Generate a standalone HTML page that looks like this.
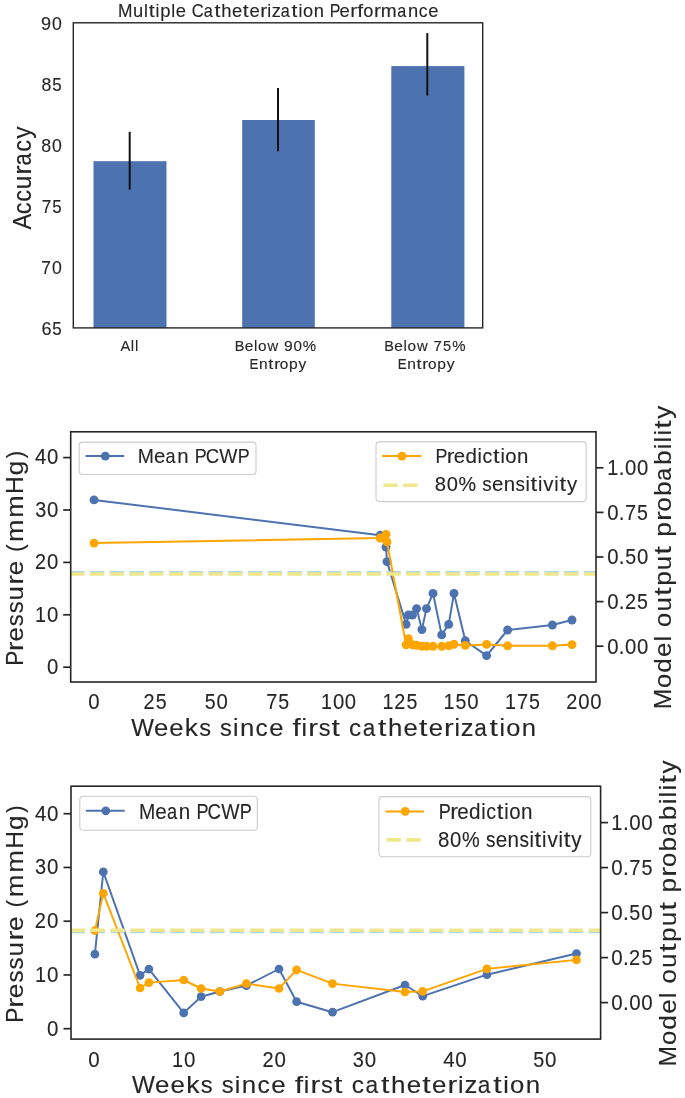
<!DOCTYPE html>
<html><head><meta charset="utf-8"><title>Multiple Catheterization Performance</title>
<style>
html,body{margin:0;padding:0;background:#fff;overflow:hidden;}
svg{display:block;}
text{font-family:"Liberation Sans",sans-serif;fill:#262626;stroke:#262626;stroke-width:0.12px;}
svg{will-change:transform;}
</style></head><body>
<svg width="685" height="1098" viewBox="0 0 685 1098">
<rect width="685" height="1098" fill="#fff"/>
<rect x="93.50" y="161.20" width="73.00" height="166.70" fill="#4c72b0"/>
<rect x="242.20" y="120.00" width="72.60" height="207.90" fill="#4c72b0"/>
<rect x="391.30" y="66.10" width="73.10" height="261.80" fill="#4c72b0"/>
<line x1="129.70" y1="131.80" x2="129.70" y2="189.60" stroke="#111" stroke-width="2"/>
<line x1="278.00" y1="88.10" x2="278.00" y2="151.20" stroke="#111" stroke-width="2"/>
<line x1="427.30" y1="33.10" x2="427.30" y2="95.60" stroke="#111" stroke-width="2"/>
<rect x="73.30" y="22.80" width="409.40" height="305.10" fill="none" stroke="#262626" stroke-width="1.4"/>
<text y="0" font-size="17.8" transform="translate(61,334.8)"><tspan x="-19.51" textLength="10.06" lengthAdjust="spacingAndGlyphs">6</tspan><tspan x="-8.64" textLength="9.44" lengthAdjust="spacingAndGlyphs">5</tspan></text>
<text y="0" font-size="17.8" transform="translate(61,273.78)"><tspan x="-19.7" textLength="9.67" lengthAdjust="spacingAndGlyphs">7</tspan><tspan x="-9.12" textLength="9.82" lengthAdjust="spacingAndGlyphs">0</tspan></text>
<text y="0" font-size="17.8" transform="translate(61,212.76)"><tspan x="-19.35" textLength="9.67" lengthAdjust="spacingAndGlyphs">7</tspan><tspan x="-8.64" textLength="9.44" lengthAdjust="spacingAndGlyphs">5</tspan></text>
<text y="0" font-size="17.8" transform="translate(61,151.74)"><tspan x="-19.78" textLength="9.9" lengthAdjust="spacingAndGlyphs">8</tspan><tspan x="-9.12" textLength="9.82" lengthAdjust="spacingAndGlyphs">0</tspan></text>
<text y="0" font-size="17.8" transform="translate(61,90.72)"><tspan x="-19.43" textLength="9.9" lengthAdjust="spacingAndGlyphs">8</tspan><tspan x="-8.64" textLength="9.44" lengthAdjust="spacingAndGlyphs">5</tspan></text>
<text y="0" font-size="17.8" transform="translate(61,29.7)"><tspan x="-19.91" textLength="10.05" lengthAdjust="spacingAndGlyphs">9</tspan><tspan x="-9.12" textLength="9.82" lengthAdjust="spacingAndGlyphs">0</tspan></text>
<text y="0" font-size="17.9" transform="translate(119.6,17.2)"><tspan x="-1.5" textLength="14.47" lengthAdjust="spacingAndGlyphs">M</tspan><tspan x="13.46" textLength="10.21" lengthAdjust="spacingAndGlyphs">u</tspan><tspan x="24.48" textLength="3.93" lengthAdjust="spacingAndGlyphs">l</tspan><tspan x="29.16" textLength="5.96" lengthAdjust="spacingAndGlyphs">t</tspan><tspan x="36.01" textLength="3.93" lengthAdjust="spacingAndGlyphs">i</tspan><tspan x="40.78" textLength="10.27" lengthAdjust="spacingAndGlyphs">p</tspan><tspan x="51.7" textLength="3.93" lengthAdjust="spacingAndGlyphs">l</tspan><tspan x="56.27" textLength="10.22" lengthAdjust="spacingAndGlyphs">e</tspan> <tspan x="72.04" textLength="11.95" lengthAdjust="spacingAndGlyphs">C</tspan><tspan x="84.27" textLength="9.01" lengthAdjust="spacingAndGlyphs">a</tspan><tspan x="94.98" textLength="5.96" lengthAdjust="spacingAndGlyphs">t</tspan><tspan x="101.73" textLength="10.26" lengthAdjust="spacingAndGlyphs">h</tspan><tspan x="112.51" textLength="10.22" lengthAdjust="spacingAndGlyphs">e</tspan><tspan x="123.21" textLength="5.96" lengthAdjust="spacingAndGlyphs">t</tspan><tspan x="129.84" textLength="10.22" lengthAdjust="spacingAndGlyphs">e</tspan><tspan x="140.54" textLength="6.93" lengthAdjust="spacingAndGlyphs">r</tspan><tspan x="147.71" textLength="3.93" lengthAdjust="spacingAndGlyphs">i</tspan><tspan x="152.08" textLength="9.14" lengthAdjust="spacingAndGlyphs">z</tspan><tspan x="161.24" textLength="9.01" lengthAdjust="spacingAndGlyphs">a</tspan><tspan x="171.95" textLength="5.96" lengthAdjust="spacingAndGlyphs">t</tspan><tspan x="178.8" textLength="3.93" lengthAdjust="spacingAndGlyphs">i</tspan><tspan x="183.36" textLength="10.11" lengthAdjust="spacingAndGlyphs">o</tspan><tspan x="194.05" textLength="10.21" lengthAdjust="spacingAndGlyphs">n</tspan> <tspan x="210.2" textLength="10.68" lengthAdjust="spacingAndGlyphs">P</tspan><tspan x="220.01" textLength="10.22" lengthAdjust="spacingAndGlyphs">e</tspan><tspan x="230.71" textLength="6.93" lengthAdjust="spacingAndGlyphs">r</tspan><tspan x="237.73" textLength="5.88" lengthAdjust="spacingAndGlyphs">f</tspan><tspan x="243.72" textLength="10.11" lengthAdjust="spacingAndGlyphs">o</tspan><tspan x="254.36" textLength="6.93" lengthAdjust="spacingAndGlyphs">r</tspan><tspan x="261.27" textLength="15.9" lengthAdjust="spacingAndGlyphs">m</tspan><tspan x="277.71" textLength="9.01" lengthAdjust="spacingAndGlyphs">a</tspan><tspan x="288.48" textLength="10.21" lengthAdjust="spacingAndGlyphs">n</tspan><tspan x="299.16" textLength="8.73" lengthAdjust="spacingAndGlyphs">c</tspan><tspan x="308.67" textLength="10.22" lengthAdjust="spacingAndGlyphs">e</tspan></text>
<text y="0" font-size="25.3" transform="matrix(0,-1,1,0,31.2,229.3)"><tspan x="-0.29" textLength="15.74" lengthAdjust="spacingAndGlyphs">A</tspan><tspan x="15.04" textLength="11.77" lengthAdjust="spacingAndGlyphs">c</tspan><tspan x="27.52" textLength="11.77" lengthAdjust="spacingAndGlyphs">c</tspan><tspan x="40.18" textLength="13.75" lengthAdjust="spacingAndGlyphs">u</tspan><tspan x="54.65" textLength="9.31" lengthAdjust="spacingAndGlyphs">r</tspan><tspan x="63.69" textLength="12.17" lengthAdjust="spacingAndGlyphs">a</tspan><tspan x="77.63" textLength="11.77" lengthAdjust="spacingAndGlyphs">c</tspan><tspan x="90.57" textLength="12.33" lengthAdjust="spacingAndGlyphs">y</tspan></text>
<text y="0" font-size="14.5" transform="translate(128.9,350.8)"><tspan x="-8.41" textLength="9.86" lengthAdjust="spacingAndGlyphs">A</tspan><tspan x="1.98" textLength="3.32" lengthAdjust="spacingAndGlyphs">l</tspan><tspan x="6.09" textLength="3.32" lengthAdjust="spacingAndGlyphs">l</tspan></text>
<text y="0" font-size="14.5" transform="translate(275.75,350.6)"><tspan x="-41.12" textLength="9.61" lengthAdjust="spacingAndGlyphs">B</tspan><tspan x="-30.97" textLength="8.64" lengthAdjust="spacingAndGlyphs">e</tspan><tspan x="-21.73" textLength="3.32" lengthAdjust="spacingAndGlyphs">l</tspan><tspan x="-17.75" textLength="8.54" lengthAdjust="spacingAndGlyphs">o</tspan><tspan x="-8.26" textLength="10.7" lengthAdjust="spacingAndGlyphs">w</tspan> <tspan x="8.16" textLength="8.69" lengthAdjust="spacingAndGlyphs">9</tspan><tspan x="17.73" textLength="8.49" lengthAdjust="spacingAndGlyphs">0</tspan><tspan x="27.05" textLength="13.33" lengthAdjust="spacingAndGlyphs">%</tspan></text>
<text y="0" font-size="14.5" transform="translate(278.55,368.5)"><tspan x="-29.03" textLength="8.89" lengthAdjust="spacingAndGlyphs">E</tspan><tspan x="-19.5" textLength="8.63" lengthAdjust="spacingAndGlyphs">n</tspan><tspan x="-10.2" textLength="5.06" lengthAdjust="spacingAndGlyphs">t</tspan><tspan x="-4.38" textLength="5.87" lengthAdjust="spacingAndGlyphs">r</tspan><tspan x="1.3" textLength="8.54" lengthAdjust="spacingAndGlyphs">o</tspan><tspan x="10.54" textLength="8.69" lengthAdjust="spacingAndGlyphs">p</tspan><tspan x="19.99" textLength="7.74" lengthAdjust="spacingAndGlyphs">y</tspan></text>
<text y="0" font-size="14.5" transform="translate(425.25,350.6)"><tspan x="-41.12" textLength="9.61" lengthAdjust="spacingAndGlyphs">B</tspan><tspan x="-30.97" textLength="8.64" lengthAdjust="spacingAndGlyphs">e</tspan><tspan x="-21.73" textLength="3.32" lengthAdjust="spacingAndGlyphs">l</tspan><tspan x="-17.75" textLength="8.54" lengthAdjust="spacingAndGlyphs">o</tspan><tspan x="-8.26" textLength="10.7" lengthAdjust="spacingAndGlyphs">w</tspan> <tspan x="8.35" textLength="8.36" lengthAdjust="spacingAndGlyphs">7</tspan><tspan x="17.84" textLength="8.15" lengthAdjust="spacingAndGlyphs">5</tspan><tspan x="27.05" textLength="13.33" lengthAdjust="spacingAndGlyphs">%</tspan></text>
<text y="0" font-size="14.5" transform="translate(426.65,368.5)"><tspan x="-29.03" textLength="8.89" lengthAdjust="spacingAndGlyphs">E</tspan><tspan x="-19.5" textLength="8.63" lengthAdjust="spacingAndGlyphs">n</tspan><tspan x="-10.2" textLength="5.06" lengthAdjust="spacingAndGlyphs">t</tspan><tspan x="-4.38" textLength="5.87" lengthAdjust="spacingAndGlyphs">r</tspan><tspan x="1.3" textLength="8.54" lengthAdjust="spacingAndGlyphs">o</tspan><tspan x="10.54" textLength="8.69" lengthAdjust="spacingAndGlyphs">p</tspan><tspan x="19.99" textLength="7.74" lengthAdjust="spacingAndGlyphs">y</tspan></text>
<clipPath id="c431"><rect x="70.70" y="431.80" width="525.30" height="250.20"/></clipPath>
<g clip-path="url(#c431)">
<polyline points="94.00,499.90 380.20,535.30 386.00,547.10 387.00,561.60 406.10,624.40 408.40,615.00 412.50,615.00 416.60,608.60 421.90,629.60 426.50,608.60 433.00,593.40 441.70,634.90 448.70,624.40 454.00,593.40 465.30,640.80 486.60,655.60 507.60,630.00 552.40,625.00 572.00,620.00" fill="none" stroke="#4c72b0" stroke-width="2.0" stroke-linejoin="round"/>
<circle cx="94.00" cy="499.90" r="4.45" fill="#4c72b0"/>
<circle cx="380.20" cy="535.30" r="4.45" fill="#4c72b0"/>
<circle cx="386.00" cy="547.10" r="4.45" fill="#4c72b0"/>
<circle cx="387.00" cy="561.60" r="4.45" fill="#4c72b0"/>
<circle cx="406.10" cy="624.40" r="4.45" fill="#4c72b0"/>
<circle cx="408.40" cy="615.00" r="4.45" fill="#4c72b0"/>
<circle cx="412.50" cy="615.00" r="4.45" fill="#4c72b0"/>
<circle cx="416.60" cy="608.60" r="4.45" fill="#4c72b0"/>
<circle cx="421.90" cy="629.60" r="4.45" fill="#4c72b0"/>
<circle cx="426.50" cy="608.60" r="4.45" fill="#4c72b0"/>
<circle cx="433.00" cy="593.40" r="4.45" fill="#4c72b0"/>
<circle cx="441.70" cy="634.90" r="4.45" fill="#4c72b0"/>
<circle cx="448.70" cy="624.40" r="4.45" fill="#4c72b0"/>
<circle cx="454.00" cy="593.40" r="4.45" fill="#4c72b0"/>
<circle cx="465.30" cy="640.80" r="4.45" fill="#4c72b0"/>
<circle cx="486.60" cy="655.60" r="4.45" fill="#4c72b0"/>
<circle cx="507.60" cy="630.00" r="4.45" fill="#4c72b0"/>
<circle cx="552.40" cy="625.00" r="4.45" fill="#4c72b0"/>
<circle cx="572.00" cy="620.00" r="4.45" fill="#4c72b0"/>
<line x1="70.70" y1="572.65" x2="596.00" y2="572.65" stroke="#add8e6" stroke-width="3.4" stroke-dasharray="14.2 5.56" stroke-dashoffset="0.5"/>
<polyline points="94.00,543.10 380.20,538.00 386.00,534.40 387.00,541.90 406.10,644.80 408.40,638.70 412.50,644.80 416.60,645.30 421.90,646.30 426.50,646.30 433.00,646.30 441.70,646.30 448.70,645.80 454.00,644.30 465.30,645.40 486.60,644.40 507.60,645.80 552.40,645.80 572.00,644.60" fill="none" stroke="#ffa500" stroke-width="2.0" stroke-linejoin="round"/>
<circle cx="94.00" cy="543.10" r="4.45" fill="#ffa500"/>
<circle cx="380.20" cy="538.00" r="4.45" fill="#ffa500"/>
<circle cx="386.00" cy="534.40" r="4.45" fill="#ffa500"/>
<circle cx="387.00" cy="541.90" r="4.45" fill="#ffa500"/>
<circle cx="406.10" cy="644.80" r="4.45" fill="#ffa500"/>
<circle cx="408.40" cy="638.70" r="4.45" fill="#ffa500"/>
<circle cx="412.50" cy="644.80" r="4.45" fill="#ffa500"/>
<circle cx="416.60" cy="645.30" r="4.45" fill="#ffa500"/>
<circle cx="421.90" cy="646.30" r="4.45" fill="#ffa500"/>
<circle cx="426.50" cy="646.30" r="4.45" fill="#ffa500"/>
<circle cx="433.00" cy="646.30" r="4.45" fill="#ffa500"/>
<circle cx="441.70" cy="646.30" r="4.45" fill="#ffa500"/>
<circle cx="448.70" cy="645.80" r="4.45" fill="#ffa500"/>
<circle cx="454.00" cy="644.30" r="4.45" fill="#ffa500"/>
<circle cx="465.30" cy="645.40" r="4.45" fill="#ffa500"/>
<circle cx="486.60" cy="644.40" r="4.45" fill="#ffa500"/>
<circle cx="507.60" cy="645.80" r="4.45" fill="#ffa500"/>
<circle cx="552.40" cy="645.80" r="4.45" fill="#ffa500"/>
<circle cx="572.00" cy="644.60" r="4.45" fill="#ffa500"/>
<line x1="70.70" y1="573.95" x2="596.00" y2="573.95" stroke="#f0e68c" stroke-width="3.4" stroke-dasharray="14.2 5.56" stroke-dashoffset="0.5"/>
</g>
<rect x="70.70" y="431.80" width="525.30" height="250.20" fill="none" stroke="#262626" stroke-width="1.6"/>
<line x1="63.20" y1="667.20" x2="70.70" y2="667.20" stroke="#262626" stroke-width="1.7"/>
<text y="0" font-size="21.8" transform="translate(57.3,674)"><tspan x="-10.37" textLength="11.31" lengthAdjust="spacingAndGlyphs">0</tspan></text>
<line x1="63.20" y1="614.80" x2="70.70" y2="614.80" stroke="#262626" stroke-width="1.7"/>
<text y="0" font-size="21.8" transform="translate(57.3,621.6)"><tspan x="-22.19" textLength="10.97" lengthAdjust="spacingAndGlyphs">1</tspan><tspan x="-10.37" textLength="11.31" lengthAdjust="spacingAndGlyphs">0</tspan></text>
<line x1="63.20" y1="562.40" x2="70.70" y2="562.40" stroke="#262626" stroke-width="1.7"/>
<text y="0" font-size="21.8" transform="translate(57.3,569.2)"><tspan x="-22.37" textLength="11.03" lengthAdjust="spacingAndGlyphs">2</tspan><tspan x="-10.37" textLength="11.31" lengthAdjust="spacingAndGlyphs">0</tspan></text>
<line x1="63.20" y1="510.00" x2="70.70" y2="510.00" stroke="#262626" stroke-width="1.7"/>
<text y="0" font-size="21.8" transform="translate(57.3,516.8)"><tspan x="-22.09" textLength="11.01" lengthAdjust="spacingAndGlyphs">3</tspan><tspan x="-10.37" textLength="11.31" lengthAdjust="spacingAndGlyphs">0</tspan></text>
<line x1="63.20" y1="457.60" x2="70.70" y2="457.60" stroke="#262626" stroke-width="1.7"/>
<text y="0" font-size="21.8" transform="translate(57.3,464.4)"><tspan x="-22.26" textLength="11.31" lengthAdjust="spacingAndGlyphs">4</tspan><tspan x="-10.37" textLength="11.31" lengthAdjust="spacingAndGlyphs">0</tspan></text>
<line x1="596.00" y1="646.20" x2="603.50" y2="646.20" stroke="#262626" stroke-width="1.7"/>
<text y="0" font-size="21.8" transform="translate(606.9,653.6)"><tspan x="0.29" textLength="11.31" lengthAdjust="spacingAndGlyphs">0</tspan><tspan x="11.98" textLength="5.75" lengthAdjust="spacingAndGlyphs">.</tspan><tspan x="18.13" textLength="11.31" lengthAdjust="spacingAndGlyphs">0</tspan><tspan x="30.03" textLength="11.31" lengthAdjust="spacingAndGlyphs">0</tspan></text>
<line x1="596.00" y1="601.60" x2="603.50" y2="601.60" stroke="#262626" stroke-width="1.7"/>
<text y="0" font-size="21.8" transform="translate(606.9,609)"><tspan x="0.29" textLength="11.31" lengthAdjust="spacingAndGlyphs">0</tspan><tspan x="11.98" textLength="5.75" lengthAdjust="spacingAndGlyphs">.</tspan><tspan x="18.02" textLength="11.03" lengthAdjust="spacingAndGlyphs">2</tspan><tspan x="30.17" textLength="10.88" lengthAdjust="spacingAndGlyphs">5</tspan></text>
<line x1="596.00" y1="557.00" x2="603.50" y2="557.00" stroke="#262626" stroke-width="1.7"/>
<text y="0" font-size="21.8" transform="translate(606.9,564.4)"><tspan x="0.29" textLength="11.31" lengthAdjust="spacingAndGlyphs">0</tspan><tspan x="11.98" textLength="5.75" lengthAdjust="spacingAndGlyphs">.</tspan><tspan x="18.27" textLength="10.88" lengthAdjust="spacingAndGlyphs">5</tspan><tspan x="30.03" textLength="11.31" lengthAdjust="spacingAndGlyphs">0</tspan></text>
<line x1="596.00" y1="512.40" x2="603.50" y2="512.40" stroke="#262626" stroke-width="1.7"/>
<text y="0" font-size="21.8" transform="translate(606.9,519.8)"><tspan x="0.29" textLength="11.31" lengthAdjust="spacingAndGlyphs">0</tspan><tspan x="11.98" textLength="5.75" lengthAdjust="spacingAndGlyphs">.</tspan><tspan x="18.18" textLength="11.14" lengthAdjust="spacingAndGlyphs">7</tspan><tspan x="30.17" textLength="10.88" lengthAdjust="spacingAndGlyphs">5</tspan></text>
<line x1="596.00" y1="467.80" x2="603.50" y2="467.80" stroke="#262626" stroke-width="1.7"/>
<text y="0" font-size="21.8" transform="translate(606.9,475.2)"><tspan x="0.36" textLength="10.97" lengthAdjust="spacingAndGlyphs">1</tspan><tspan x="11.98" textLength="5.75" lengthAdjust="spacingAndGlyphs">.</tspan><tspan x="18.13" textLength="11.31" lengthAdjust="spacingAndGlyphs">0</tspan><tspan x="30.03" textLength="11.31" lengthAdjust="spacingAndGlyphs">0</tspan></text>
<text y="0" font-size="21.8" transform="translate(93.85,708.5)"><tspan x="-5.66" textLength="11.31" lengthAdjust="spacingAndGlyphs">0</tspan></text>
<text y="0" font-size="21.8" transform="translate(155.12,708.5)"><tspan x="-11.58" textLength="11.03" lengthAdjust="spacingAndGlyphs">2</tspan><tspan x="0.56" textLength="10.88" lengthAdjust="spacingAndGlyphs">5</tspan></text>
<text y="0" font-size="21.8" transform="translate(216.4,708.5)"><tspan x="-11.57" textLength="10.88" lengthAdjust="spacingAndGlyphs">5</tspan><tspan x="0.19" textLength="11.31" lengthAdjust="spacingAndGlyphs">0</tspan></text>
<text y="0" font-size="21.8" transform="translate(277.68,708.5)"><tspan x="-11.51" textLength="11.14" lengthAdjust="spacingAndGlyphs">7</tspan><tspan x="0.48" textLength="10.88" lengthAdjust="spacingAndGlyphs">5</tspan></text>
<text y="0" font-size="21.8" transform="translate(338.95,708.5)"><tspan x="-17.89" textLength="10.97" lengthAdjust="spacingAndGlyphs">1</tspan><tspan x="-6.07" textLength="11.31" lengthAdjust="spacingAndGlyphs">0</tspan><tspan x="5.83" textLength="11.31" lengthAdjust="spacingAndGlyphs">0</tspan></text>
<text y="0" font-size="21.8" transform="translate(400.23,708.5)"><tspan x="-17.7" textLength="10.97" lengthAdjust="spacingAndGlyphs">1</tspan><tspan x="-5.98" textLength="11.03" lengthAdjust="spacingAndGlyphs">2</tspan><tspan x="6.17" textLength="10.88" lengthAdjust="spacingAndGlyphs">5</tspan></text>
<text y="0" font-size="21.8" transform="translate(461.5,708.5)"><tspan x="-17.89" textLength="10.97" lengthAdjust="spacingAndGlyphs">1</tspan><tspan x="-5.92" textLength="10.88" lengthAdjust="spacingAndGlyphs">5</tspan><tspan x="5.83" textLength="11.31" lengthAdjust="spacingAndGlyphs">0</tspan></text>
<text y="0" font-size="21.8" transform="translate(522.77,708.5)"><tspan x="-17.7" textLength="10.97" lengthAdjust="spacingAndGlyphs">1</tspan><tspan x="-5.82" textLength="11.14" lengthAdjust="spacingAndGlyphs">7</tspan><tspan x="6.17" textLength="10.88" lengthAdjust="spacingAndGlyphs">5</tspan></text>
<text y="0" font-size="21.8" transform="translate(584.05,708.5)"><tspan x="-17.73" textLength="11.03" lengthAdjust="spacingAndGlyphs">2</tspan><tspan x="-5.72" textLength="11.31" lengthAdjust="spacingAndGlyphs">0</tspan><tspan x="6.17" textLength="11.31" lengthAdjust="spacingAndGlyphs">0</tspan></text>
<text y="0" font-size="23" transform="translate(131.1,735.6)"><tspan x="0.11" textLength="22.73" lengthAdjust="spacingAndGlyphs">W</tspan><tspan x="22.89" textLength="14.31" lengthAdjust="spacingAndGlyphs">e</tspan><tspan x="38.21" textLength="14.31" lengthAdjust="spacingAndGlyphs">e</tspan><tspan x="53.77" textLength="13.19" lengthAdjust="spacingAndGlyphs">k</tspan><tspan x="68.14" textLength="11.8" lengthAdjust="spacingAndGlyphs">s</tspan> <tspan x="89.03" textLength="11.8" lengthAdjust="spacingAndGlyphs">s</tspan><tspan x="101.98" textLength="5.49" lengthAdjust="spacingAndGlyphs">i</tspan><tspan x="108.97" textLength="14.29" lengthAdjust="spacingAndGlyphs">n</tspan><tspan x="124.42" textLength="12.19" lengthAdjust="spacingAndGlyphs">c</tspan><tspan x="138.2" textLength="14.31" lengthAdjust="spacingAndGlyphs">e</tspan> <tspan x="161.41" textLength="8.28" lengthAdjust="spacingAndGlyphs">f</tspan><tspan x="170.37" textLength="5.49" lengthAdjust="spacingAndGlyphs">i</tspan><tspan x="177.22" textLength="9.73" lengthAdjust="spacingAndGlyphs">r</tspan><tspan x="187.55" textLength="11.8" lengthAdjust="spacingAndGlyphs">s</tspan><tspan x="200.38" textLength="8.39" lengthAdjust="spacingAndGlyphs">t</tspan> <tspan x="217.92" textLength="12.19" lengthAdjust="spacingAndGlyphs">c</tspan><tspan x="231.63" textLength="12.55" lengthAdjust="spacingAndGlyphs">a</tspan><tspan x="247" textLength="8.39" lengthAdjust="spacingAndGlyphs">t</tspan><tspan x="256.89" textLength="14.36" lengthAdjust="spacingAndGlyphs">h</tspan><tspan x="272.5" textLength="14.31" lengthAdjust="spacingAndGlyphs">e</tspan><tspan x="287.87" textLength="8.39" lengthAdjust="spacingAndGlyphs">t</tspan><tspan x="297.58" textLength="14.31" lengthAdjust="spacingAndGlyphs">e</tspan><tspan x="313" textLength="9.73" lengthAdjust="spacingAndGlyphs">r</tspan><tspan x="323.31" textLength="5.49" lengthAdjust="spacingAndGlyphs">i</tspan><tspan x="329.76" textLength="12.79" lengthAdjust="spacingAndGlyphs">z</tspan><tspan x="343.06" textLength="12.55" lengthAdjust="spacingAndGlyphs">a</tspan><tspan x="358.43" textLength="8.39" lengthAdjust="spacingAndGlyphs">t</tspan><tspan x="368.32" textLength="5.49" lengthAdjust="spacingAndGlyphs">i</tspan><tspan x="375.06" textLength="14.14" lengthAdjust="spacingAndGlyphs">o</tspan><tspan x="390.54" textLength="14.29" lengthAdjust="spacingAndGlyphs">n</tspan></text>
<text y="0" font-size="24" transform="matrix(0,-1,1,0,23,663.8)"><tspan x="-2.02" textLength="15.04" lengthAdjust="spacingAndGlyphs">P</tspan><tspan x="12.67" textLength="9.8" lengthAdjust="spacingAndGlyphs">r</tspan><tspan x="22.2" textLength="14.43" lengthAdjust="spacingAndGlyphs">e</tspan><tspan x="37.66" textLength="11.92" lengthAdjust="spacingAndGlyphs">s</tspan><tspan x="50.58" textLength="11.92" lengthAdjust="spacingAndGlyphs">s</tspan><tspan x="63.43" textLength="14.41" lengthAdjust="spacingAndGlyphs">u</tspan><tspan x="79.14" textLength="9.8" lengthAdjust="spacingAndGlyphs">r</tspan><tspan x="88.67" textLength="14.43" lengthAdjust="spacingAndGlyphs">e</tspan> <tspan x="112" textLength="7.28" lengthAdjust="spacingAndGlyphs">(</tspan><tspan x="121.93" textLength="22.47" lengthAdjust="spacingAndGlyphs">m</tspan><tspan x="146.09" textLength="22.47" lengthAdjust="spacingAndGlyphs">m</tspan><tspan x="169.82" textLength="17.67" lengthAdjust="spacingAndGlyphs">H</tspan><tspan x="188.46" textLength="14.5" lengthAdjust="spacingAndGlyphs">g</tspan><tspan x="205.47" textLength="7.28" lengthAdjust="spacingAndGlyphs">)</tspan></text>
<text y="0" font-size="24" transform="matrix(0,-1,1,0,671,707.4)"><tspan x="-1.94" textLength="20.45" lengthAdjust="spacingAndGlyphs">M</tspan><tspan x="19.46" textLength="14.29" lengthAdjust="spacingAndGlyphs">o</tspan><tspan x="34.68" textLength="14.52" lengthAdjust="spacingAndGlyphs">d</tspan><tspan x="50.45" textLength="14.45" lengthAdjust="spacingAndGlyphs">e</tspan><tspan x="65.94" textLength="5.55" lengthAdjust="spacingAndGlyphs">l</tspan> <tspan x="80.53" textLength="14.29" lengthAdjust="spacingAndGlyphs">o</tspan><tspan x="95.88" textLength="14.43" lengthAdjust="spacingAndGlyphs">u</tspan><tspan x="111.58" textLength="8.46" lengthAdjust="spacingAndGlyphs">t</tspan><tspan x="121.55" textLength="14.53" lengthAdjust="spacingAndGlyphs">p</tspan><tspan x="137.15" textLength="14.43" lengthAdjust="spacingAndGlyphs">u</tspan><tspan x="152.85" textLength="8.46" lengthAdjust="spacingAndGlyphs">t</tspan> <tspan x="170.71" textLength="14.53" lengthAdjust="spacingAndGlyphs">p</tspan><tspan x="186.3" textLength="9.82" lengthAdjust="spacingAndGlyphs">r</tspan><tspan x="195.84" textLength="14.29" lengthAdjust="spacingAndGlyphs">o</tspan><tspan x="211.36" textLength="14.53" lengthAdjust="spacingAndGlyphs">b</tspan><tspan x="226.75" textLength="12.7" lengthAdjust="spacingAndGlyphs">a</tspan><tspan x="242.36" textLength="14.53" lengthAdjust="spacingAndGlyphs">b</tspan><tspan x="258.05" textLength="5.55" lengthAdjust="spacingAndGlyphs">i</tspan><tspan x="264.94" textLength="5.55" lengthAdjust="spacingAndGlyphs">l</tspan><tspan x="271.86" textLength="5.55" lengthAdjust="spacingAndGlyphs">i</tspan><tspan x="278.63" textLength="8.46" lengthAdjust="spacingAndGlyphs">t</tspan><tspan x="288.69" textLength="12.94" lengthAdjust="spacingAndGlyphs">y</tspan></text>
<rect x="79.20" y="442.10" width="176.80" height="32.40" rx="3.5" fill="#fff" fill-opacity="0.8" stroke="#cccccc" stroke-width="1.1"/>
<rect x="376.00" y="441.90" width="210.20" height="59.70" rx="3.5" fill="#fff" fill-opacity="0.8" stroke="#cccccc" stroke-width="1.1"/>
<line x1="85.60" y1="456.10" x2="124.10" y2="456.10" stroke="#4c72b0" stroke-width="2.0"/>
<circle cx="105.30" cy="456.10" r="4.45" fill="#4c72b0"/>
<text y="0" font-size="21" transform="translate(139.5,463.3)"><tspan x="-1.82" textLength="16.15" lengthAdjust="spacingAndGlyphs">M</tspan><tspan x="14.45" textLength="11.39" lengthAdjust="spacingAndGlyphs">e</tspan><tspan x="25.91" textLength="10.07" lengthAdjust="spacingAndGlyphs">a</tspan><tspan x="37.66" textLength="11.37" lengthAdjust="spacingAndGlyphs">n</tspan> <tspan x="55.22" textLength="11.94" lengthAdjust="spacingAndGlyphs">P</tspan><tspan x="66.29" textLength="13.35" lengthAdjust="spacingAndGlyphs">C</tspan><tspan x="79.79" textLength="18.16" lengthAdjust="spacingAndGlyphs">W</tspan><tspan x="98.16" textLength="11.94" lengthAdjust="spacingAndGlyphs">P</tspan></text>
<line x1="382.10" y1="456.10" x2="421.20" y2="456.10" stroke="#ffa500" stroke-width="2.0"/>
<circle cx="402.00" cy="456.10" r="4.45" fill="#ffa500"/>
<text y="0" font-size="21" transform="translate(437.3,463.4)"><tspan x="-1.82" textLength="11.94" lengthAdjust="spacingAndGlyphs">P</tspan><tspan x="9.42" textLength="7.7" lengthAdjust="spacingAndGlyphs">r</tspan><tspan x="16.55" textLength="11.39" lengthAdjust="spacingAndGlyphs">e</tspan><tspan x="28.1" textLength="11.44" lengthAdjust="spacingAndGlyphs">d</tspan><tspan x="40.3" textLength="4.38" lengthAdjust="spacingAndGlyphs">i</tspan><tspan x="45.15" textLength="9.73" lengthAdjust="spacingAndGlyphs">c</tspan><tspan x="55.69" textLength="6.62" lengthAdjust="spacingAndGlyphs">t</tspan><tspan x="63.16" textLength="4.38" lengthAdjust="spacingAndGlyphs">i</tspan><tspan x="68.06" textLength="11.26" lengthAdjust="spacingAndGlyphs">o</tspan><tspan x="79.72" textLength="11.37" lengthAdjust="spacingAndGlyphs">n</tspan></text>
<line x1="383.40" y1="485.20" x2="421.20" y2="485.20" stroke="#f0e68c" stroke-width="3.6" stroke-dasharray="14.2 5.56"/>
<text y="0" font-size="21" transform="translate(435.7,491.2)"><tspan x="-0.95" textLength="11.28" lengthAdjust="spacingAndGlyphs">8</tspan><tspan x="11.02" textLength="11.2" lengthAdjust="spacingAndGlyphs">0</tspan><tspan x="22.7" textLength="17.59" lengthAdjust="spacingAndGlyphs">%</tspan> <tspan x="46.66" textLength="9.44" lengthAdjust="spacingAndGlyphs">s</tspan><tspan x="56.24" textLength="11.39" lengthAdjust="spacingAndGlyphs">e</tspan><tspan x="67.96" textLength="11.37" lengthAdjust="spacingAndGlyphs">n</tspan><tspan x="79.84" textLength="9.44" lengthAdjust="spacingAndGlyphs">s</tspan><tspan x="89.74" textLength="4.38" lengthAdjust="spacingAndGlyphs">i</tspan><tspan x="94.83" textLength="6.62" lengthAdjust="spacingAndGlyphs">t</tspan><tspan x="102.3" textLength="4.38" lengthAdjust="spacingAndGlyphs">i</tspan><tspan x="107.52" textLength="10.23" lengthAdjust="spacingAndGlyphs">v</tspan><tspan x="118.61" textLength="4.38" lengthAdjust="spacingAndGlyphs">i</tspan><tspan x="123.69" textLength="6.62" lengthAdjust="spacingAndGlyphs">t</tspan><tspan x="131.19" textLength="10.2" lengthAdjust="spacingAndGlyphs">y</tspan></text>
<clipPath id="c786"><rect x="71.00" y="786.20" width="529.60" height="252.90"/></clipPath>
<g clip-path="url(#c786)">
<polyline points="94.90,954.20 103.30,871.90 140.10,975.30 148.90,969.10 183.70,1012.90 201.10,996.70 219.80,991.50 246.40,985.60 279.00,969.00 296.60,1001.70 332.50,1012.20 405.00,985.00 422.70,996.20 486.90,974.70 576.50,953.50" fill="none" stroke="#4c72b0" stroke-width="1.95" stroke-linejoin="round"/>
<circle cx="94.90" cy="954.20" r="4.35" fill="#4c72b0"/>
<circle cx="103.30" cy="871.90" r="4.35" fill="#4c72b0"/>
<circle cx="140.10" cy="975.30" r="4.35" fill="#4c72b0"/>
<circle cx="148.90" cy="969.10" r="4.35" fill="#4c72b0"/>
<circle cx="183.70" cy="1012.90" r="4.35" fill="#4c72b0"/>
<circle cx="201.10" cy="996.70" r="4.35" fill="#4c72b0"/>
<circle cx="219.80" cy="991.50" r="4.35" fill="#4c72b0"/>
<circle cx="246.40" cy="985.60" r="4.35" fill="#4c72b0"/>
<circle cx="279.00" cy="969.00" r="4.35" fill="#4c72b0"/>
<circle cx="296.60" cy="1001.70" r="4.35" fill="#4c72b0"/>
<circle cx="332.50" cy="1012.20" r="4.35" fill="#4c72b0"/>
<circle cx="405.00" cy="985.00" r="4.35" fill="#4c72b0"/>
<circle cx="422.70" cy="996.20" r="4.35" fill="#4c72b0"/>
<circle cx="486.90" cy="974.70" r="4.35" fill="#4c72b0"/>
<circle cx="576.50" cy="953.50" r="4.35" fill="#4c72b0"/>
<line x1="71.00" y1="931.60" x2="600.60" y2="931.60" stroke="#add8e6" stroke-width="3.4" stroke-dasharray="14.2 5.72" stroke-dashoffset="0.3"/>
<polyline points="94.90,930.60 103.30,893.40 140.10,988.00 148.90,982.60 183.70,980.00 201.10,988.50 219.80,991.50 246.40,983.60 279.00,988.50 296.60,969.90 332.50,983.60 405.00,992.00 422.70,991.40 486.90,968.90 576.50,959.90" fill="none" stroke="#ffa500" stroke-width="1.95" stroke-linejoin="round"/>
<circle cx="94.90" cy="930.60" r="4.35" fill="#ffa500"/>
<circle cx="103.30" cy="893.40" r="4.35" fill="#ffa500"/>
<circle cx="140.10" cy="988.00" r="4.35" fill="#ffa500"/>
<circle cx="148.90" cy="982.60" r="4.35" fill="#ffa500"/>
<circle cx="183.70" cy="980.00" r="4.35" fill="#ffa500"/>
<circle cx="201.10" cy="988.50" r="4.35" fill="#ffa500"/>
<circle cx="219.80" cy="991.50" r="4.35" fill="#ffa500"/>
<circle cx="246.40" cy="983.60" r="4.35" fill="#ffa500"/>
<circle cx="279.00" cy="988.50" r="4.35" fill="#ffa500"/>
<circle cx="296.60" cy="969.90" r="4.35" fill="#ffa500"/>
<circle cx="332.50" cy="983.60" r="4.35" fill="#ffa500"/>
<circle cx="405.00" cy="992.00" r="4.35" fill="#ffa500"/>
<circle cx="422.70" cy="991.40" r="4.35" fill="#ffa500"/>
<circle cx="486.90" cy="968.90" r="4.35" fill="#ffa500"/>
<circle cx="576.50" cy="959.90" r="4.35" fill="#ffa500"/>
<line x1="71.00" y1="930.30" x2="600.60" y2="930.30" stroke="#f0e68c" stroke-width="3.4" stroke-dasharray="14.2 5.72" stroke-dashoffset="0.3"/>
</g>
<rect x="71.00" y="786.20" width="529.60" height="252.90" fill="none" stroke="#262626" stroke-width="1.6"/>
<line x1="63.50" y1="1028.70" x2="71.00" y2="1028.70" stroke="#262626" stroke-width="1.7"/>
<text y="0" font-size="22" transform="translate(57.4,1035.6)"><tspan x="-10.48" textLength="11.43" lengthAdjust="spacingAndGlyphs">0</tspan></text>
<line x1="63.50" y1="974.95" x2="71.00" y2="974.95" stroke="#262626" stroke-width="1.7"/>
<text y="0" font-size="22" transform="translate(57.4,981.85)"><tspan x="-22.43" textLength="11.08" lengthAdjust="spacingAndGlyphs">1</tspan><tspan x="-10.48" textLength="11.43" lengthAdjust="spacingAndGlyphs">0</tspan></text>
<line x1="63.50" y1="921.20" x2="71.00" y2="921.20" stroke="#262626" stroke-width="1.7"/>
<text y="0" font-size="22" transform="translate(57.4,928.1)"><tspan x="-22.61" textLength="11.15" lengthAdjust="spacingAndGlyphs">2</tspan><tspan x="-10.48" textLength="11.43" lengthAdjust="spacingAndGlyphs">0</tspan></text>
<line x1="63.50" y1="867.45" x2="71.00" y2="867.45" stroke="#262626" stroke-width="1.7"/>
<text y="0" font-size="22" transform="translate(57.4,874.35)"><tspan x="-22.32" textLength="11.12" lengthAdjust="spacingAndGlyphs">3</tspan><tspan x="-10.48" textLength="11.43" lengthAdjust="spacingAndGlyphs">0</tspan></text>
<line x1="63.50" y1="813.70" x2="71.00" y2="813.70" stroke="#262626" stroke-width="1.7"/>
<text y="0" font-size="22" transform="translate(57.4,820.6)"><tspan x="-22.5" textLength="11.43" lengthAdjust="spacingAndGlyphs">4</tspan><tspan x="-10.48" textLength="11.43" lengthAdjust="spacingAndGlyphs">0</tspan></text>
<line x1="600.60" y1="1002.60" x2="608.10" y2="1002.60" stroke="#262626" stroke-width="1.7"/>
<text y="0" font-size="22" transform="translate(610.9,1010.1)"><tspan x="0.29" textLength="11.43" lengthAdjust="spacingAndGlyphs">0</tspan><tspan x="12.11" textLength="5.81" lengthAdjust="spacingAndGlyphs">.</tspan><tspan x="18.33" textLength="11.43" lengthAdjust="spacingAndGlyphs">0</tspan><tspan x="30.35" textLength="11.43" lengthAdjust="spacingAndGlyphs">0</tspan></text>
<line x1="600.60" y1="957.60" x2="608.10" y2="957.60" stroke="#262626" stroke-width="1.7"/>
<text y="0" font-size="22" transform="translate(610.9,965.1)"><tspan x="0.29" textLength="11.43" lengthAdjust="spacingAndGlyphs">0</tspan><tspan x="12.11" textLength="5.81" lengthAdjust="spacingAndGlyphs">.</tspan><tspan x="18.22" textLength="11.15" lengthAdjust="spacingAndGlyphs">2</tspan><tspan x="30.5" textLength="10.99" lengthAdjust="spacingAndGlyphs">5</tspan></text>
<line x1="600.60" y1="912.60" x2="608.10" y2="912.60" stroke="#262626" stroke-width="1.7"/>
<text y="0" font-size="22" transform="translate(610.9,920.1)"><tspan x="0.29" textLength="11.43" lengthAdjust="spacingAndGlyphs">0</tspan><tspan x="12.11" textLength="5.81" lengthAdjust="spacingAndGlyphs">.</tspan><tspan x="18.47" textLength="10.99" lengthAdjust="spacingAndGlyphs">5</tspan><tspan x="30.35" textLength="11.43" lengthAdjust="spacingAndGlyphs">0</tspan></text>
<line x1="600.60" y1="867.60" x2="608.10" y2="867.60" stroke="#262626" stroke-width="1.7"/>
<text y="0" font-size="22" transform="translate(610.9,875.1)"><tspan x="0.29" textLength="11.43" lengthAdjust="spacingAndGlyphs">0</tspan><tspan x="12.11" textLength="5.81" lengthAdjust="spacingAndGlyphs">.</tspan><tspan x="18.37" textLength="11.26" lengthAdjust="spacingAndGlyphs">7</tspan><tspan x="30.5" textLength="10.99" lengthAdjust="spacingAndGlyphs">5</tspan></text>
<line x1="600.60" y1="822.60" x2="608.10" y2="822.60" stroke="#262626" stroke-width="1.7"/>
<text y="0" font-size="22" transform="translate(610.9,830.1)"><tspan x="0.37" textLength="11.08" lengthAdjust="spacingAndGlyphs">1</tspan><tspan x="12.11" textLength="5.81" lengthAdjust="spacingAndGlyphs">.</tspan><tspan x="18.33" textLength="11.43" lengthAdjust="spacingAndGlyphs">0</tspan><tspan x="30.35" textLength="11.43" lengthAdjust="spacingAndGlyphs">0</tspan></text>
<text y="0" font-size="22" transform="translate(93.9,1066.5)"><tspan x="-5.71" textLength="11.43" lengthAdjust="spacingAndGlyphs">0</tspan></text>
<text y="0" font-size="22" transform="translate(184.1,1066.5)"><tspan x="-12.07" textLength="11.08" lengthAdjust="spacingAndGlyphs">1</tspan><tspan x="-0.12" textLength="11.43" lengthAdjust="spacingAndGlyphs">0</tspan></text>
<text y="0" font-size="22" transform="translate(274.3,1066.5)"><tspan x="-11.9" textLength="11.15" lengthAdjust="spacingAndGlyphs">2</tspan><tspan x="0.23" textLength="11.43" lengthAdjust="spacingAndGlyphs">0</tspan></text>
<text y="0" font-size="22" transform="translate(364.5,1066.5)"><tspan x="-11.64" textLength="11.12" lengthAdjust="spacingAndGlyphs">3</tspan><tspan x="0.2" textLength="11.43" lengthAdjust="spacingAndGlyphs">0</tspan></text>
<text y="0" font-size="22" transform="translate(454.7,1066.5)"><tspan x="-11.56" textLength="11.43" lengthAdjust="spacingAndGlyphs">4</tspan><tspan x="0.46" textLength="11.43" lengthAdjust="spacingAndGlyphs">0</tspan></text>
<text y="0" font-size="22" transform="translate(544.9,1066.5)"><tspan x="-11.69" textLength="10.99" lengthAdjust="spacingAndGlyphs">5</tspan><tspan x="0.19" textLength="11.43" lengthAdjust="spacingAndGlyphs">0</tspan></text>
<text y="0" font-size="23.2" transform="translate(132,1093.2)"><tspan x="0.11" textLength="22.92" lengthAdjust="spacingAndGlyphs">W</tspan><tspan x="23.07" textLength="14.43" lengthAdjust="spacingAndGlyphs">e</tspan><tspan x="38.51" textLength="14.43" lengthAdjust="spacingAndGlyphs">e</tspan><tspan x="54.2" textLength="13.3" lengthAdjust="spacingAndGlyphs">k</tspan><tspan x="68.69" textLength="11.9" lengthAdjust="spacingAndGlyphs">s</tspan> <tspan x="89.74" textLength="11.9" lengthAdjust="spacingAndGlyphs">s</tspan><tspan x="102.8" textLength="5.54" lengthAdjust="spacingAndGlyphs">i</tspan><tspan x="109.85" textLength="14.41" lengthAdjust="spacingAndGlyphs">n</tspan><tspan x="125.42" textLength="12.29" lengthAdjust="spacingAndGlyphs">c</tspan><tspan x="139.31" textLength="14.43" lengthAdjust="spacingAndGlyphs">e</tspan> <tspan x="162.71" textLength="8.34" lengthAdjust="spacingAndGlyphs">f</tspan><tspan x="171.74" textLength="5.54" lengthAdjust="spacingAndGlyphs">i</tspan><tspan x="178.64" textLength="9.81" lengthAdjust="spacingAndGlyphs">r</tspan><tspan x="189.05" textLength="11.9" lengthAdjust="spacingAndGlyphs">s</tspan><tspan x="201.99" textLength="8.46" lengthAdjust="spacingAndGlyphs">t</tspan> <tspan x="219.66" textLength="12.29" lengthAdjust="spacingAndGlyphs">c</tspan><tspan x="233.49" textLength="12.66" lengthAdjust="spacingAndGlyphs">a</tspan><tspan x="248.99" textLength="8.46" lengthAdjust="spacingAndGlyphs">t</tspan><tspan x="258.95" textLength="14.48" lengthAdjust="spacingAndGlyphs">h</tspan><tspan x="274.69" textLength="14.43" lengthAdjust="spacingAndGlyphs">e</tspan><tspan x="290.18" textLength="8.46" lengthAdjust="spacingAndGlyphs">t</tspan><tspan x="299.97" textLength="14.43" lengthAdjust="spacingAndGlyphs">e</tspan><tspan x="315.51" textLength="9.81" lengthAdjust="spacingAndGlyphs">r</tspan><tspan x="325.9" textLength="5.54" lengthAdjust="spacingAndGlyphs">i</tspan><tspan x="332.41" textLength="12.89" lengthAdjust="spacingAndGlyphs">z</tspan><tspan x="345.81" textLength="12.66" lengthAdjust="spacingAndGlyphs">a</tspan><tspan x="361.31" textLength="8.46" lengthAdjust="spacingAndGlyphs">t</tspan><tspan x="371.27" textLength="5.54" lengthAdjust="spacingAndGlyphs">i</tspan><tspan x="378.07" textLength="14.26" lengthAdjust="spacingAndGlyphs">o</tspan><tspan x="393.68" textLength="14.41" lengthAdjust="spacingAndGlyphs">n</tspan></text>
<text y="0" font-size="24" transform="matrix(0,-1,1,0,23,1020.7)"><tspan x="-2.01" textLength="15.17" lengthAdjust="spacingAndGlyphs">P</tspan><tspan x="12.84" textLength="9.89" lengthAdjust="spacingAndGlyphs">r</tspan><tspan x="22.49" textLength="14.56" lengthAdjust="spacingAndGlyphs">e</tspan><tspan x="38.14" textLength="12.02" lengthAdjust="spacingAndGlyphs">s</tspan><tspan x="51.21" textLength="12.02" lengthAdjust="spacingAndGlyphs">s</tspan><tspan x="64.23" textLength="14.54" lengthAdjust="spacingAndGlyphs">u</tspan><tspan x="80.12" textLength="9.89" lengthAdjust="spacingAndGlyphs">r</tspan><tspan x="89.76" textLength="14.56" lengthAdjust="spacingAndGlyphs">e</tspan> <tspan x="113.37" textLength="7.34" lengthAdjust="spacingAndGlyphs">(</tspan><tspan x="123.44" textLength="22.67" lengthAdjust="spacingAndGlyphs">m</tspan><tspan x="147.89" textLength="22.67" lengthAdjust="spacingAndGlyphs">m</tspan><tspan x="171.91" textLength="17.82" lengthAdjust="spacingAndGlyphs">H</tspan><tspan x="190.76" textLength="14.62" lengthAdjust="spacingAndGlyphs">g</tspan><tspan x="207.96" textLength="7.34" lengthAdjust="spacingAndGlyphs">)</tspan></text>
<text y="0" font-size="24" transform="matrix(0,-1,1,0,676.2,1064.7)"><tspan x="-1.93" textLength="20.57" lengthAdjust="spacingAndGlyphs">M</tspan><tspan x="19.66" textLength="14.38" lengthAdjust="spacingAndGlyphs">o</tspan><tspan x="35.01" textLength="14.61" lengthAdjust="spacingAndGlyphs">d</tspan><tspan x="50.91" textLength="14.55" lengthAdjust="spacingAndGlyphs">e</tspan><tspan x="66.54" textLength="5.59" lengthAdjust="spacingAndGlyphs">l</tspan> <tspan x="81.27" textLength="14.38" lengthAdjust="spacingAndGlyphs">o</tspan><tspan x="96.74" textLength="14.53" lengthAdjust="spacingAndGlyphs">u</tspan><tspan x="112.58" textLength="8.52" lengthAdjust="spacingAndGlyphs">t</tspan><tspan x="122.64" textLength="14.62" lengthAdjust="spacingAndGlyphs">p</tspan><tspan x="138.38" textLength="14.53" lengthAdjust="spacingAndGlyphs">u</tspan><tspan x="154.21" textLength="8.52" lengthAdjust="spacingAndGlyphs">t</tspan> <tspan x="172.24" textLength="14.62" lengthAdjust="spacingAndGlyphs">p</tspan><tspan x="187.96" textLength="9.89" lengthAdjust="spacingAndGlyphs">r</tspan><tspan x="197.59" textLength="14.38" lengthAdjust="spacingAndGlyphs">o</tspan><tspan x="213.25" textLength="14.62" lengthAdjust="spacingAndGlyphs">b</tspan><tspan x="228.78" textLength="12.78" lengthAdjust="spacingAndGlyphs">a</tspan><tspan x="244.53" textLength="14.62" lengthAdjust="spacingAndGlyphs">b</tspan><tspan x="260.34" textLength="5.59" lengthAdjust="spacingAndGlyphs">i</tspan><tspan x="267.29" textLength="5.59" lengthAdjust="spacingAndGlyphs">l</tspan><tspan x="274.27" textLength="5.59" lengthAdjust="spacingAndGlyphs">i</tspan><tspan x="281.11" textLength="8.52" lengthAdjust="spacingAndGlyphs">t</tspan><tspan x="291.26" textLength="13.02" lengthAdjust="spacingAndGlyphs">y</tspan></text>
<rect x="79.80" y="796.30" width="177.50" height="33.90" rx="3.5" fill="#fff" fill-opacity="0.8" stroke="#cccccc" stroke-width="1.1"/>
<rect x="378.90" y="796.60" width="211.90" height="60.10" rx="3.5" fill="#fff" fill-opacity="0.8" stroke="#cccccc" stroke-width="1.1"/>
<line x1="85.90" y1="810.80" x2="124.70" y2="810.80" stroke="#4c72b0" stroke-width="1.95"/>
<circle cx="105.80" cy="810.80" r="4.35" fill="#4c72b0"/>
<text y="0" font-size="21.2" transform="translate(140.8,818.6)"><tspan x="-1.84" textLength="16.29" lengthAdjust="spacingAndGlyphs">M</tspan><tspan x="14.56" textLength="11.48" lengthAdjust="spacingAndGlyphs">e</tspan><tspan x="26.12" textLength="10.15" lengthAdjust="spacingAndGlyphs">a</tspan><tspan x="37.96" textLength="11.47" lengthAdjust="spacingAndGlyphs">n</tspan> <tspan x="55.66" textLength="12.05" lengthAdjust="spacingAndGlyphs">P</tspan><tspan x="66.81" textLength="13.46" lengthAdjust="spacingAndGlyphs">C</tspan><tspan x="80.42" textLength="18.31" lengthAdjust="spacingAndGlyphs">W</tspan><tspan x="98.95" textLength="12.05" lengthAdjust="spacingAndGlyphs">P</tspan></text>
<line x1="385.50" y1="811.40" x2="423.90" y2="811.40" stroke="#ffa500" stroke-width="1.95"/>
<circle cx="405.20" cy="811.40" r="4.35" fill="#ffa500"/>
<text y="0" font-size="21.2" transform="translate(440.7,818.9)"><tspan x="-1.84" textLength="12.05" lengthAdjust="spacingAndGlyphs">P</tspan><tspan x="9.49" textLength="7.76" lengthAdjust="spacingAndGlyphs">r</tspan><tspan x="16.68" textLength="11.48" lengthAdjust="spacingAndGlyphs">e</tspan><tspan x="28.32" textLength="11.53" lengthAdjust="spacingAndGlyphs">d</tspan><tspan x="40.62" textLength="4.42" lengthAdjust="spacingAndGlyphs">i</tspan><tspan x="45.51" textLength="9.82" lengthAdjust="spacingAndGlyphs">c</tspan><tspan x="56.13" textLength="6.68" lengthAdjust="spacingAndGlyphs">t</tspan><tspan x="63.67" textLength="4.42" lengthAdjust="spacingAndGlyphs">i</tspan><tspan x="68.6" textLength="11.36" lengthAdjust="spacingAndGlyphs">o</tspan><tspan x="80.35" textLength="11.47" lengthAdjust="spacingAndGlyphs">n</tspan></text>
<line x1="386.50" y1="839.90" x2="423.90" y2="839.90" stroke="#f0e68c" stroke-width="3.6" stroke-dasharray="14.2 5.72"/>
<text y="0" font-size="21.2" transform="translate(439,846.5)"><tspan x="-0.96" textLength="11.38" lengthAdjust="spacingAndGlyphs">8</tspan><tspan x="11.1" textLength="11.29" lengthAdjust="spacingAndGlyphs">0</tspan><tspan x="22.88" textLength="17.73" lengthAdjust="spacingAndGlyphs">%</tspan> <tspan x="47.03" textLength="9.52" lengthAdjust="spacingAndGlyphs">s</tspan><tspan x="56.69" textLength="11.48" lengthAdjust="spacingAndGlyphs">e</tspan><tspan x="68.5" textLength="11.47" lengthAdjust="spacingAndGlyphs">n</tspan><tspan x="80.48" textLength="9.52" lengthAdjust="spacingAndGlyphs">s</tspan><tspan x="90.46" textLength="4.42" lengthAdjust="spacingAndGlyphs">i</tspan><tspan x="95.58" textLength="6.68" lengthAdjust="spacingAndGlyphs">t</tspan><tspan x="103.12" textLength="4.42" lengthAdjust="spacingAndGlyphs">i</tspan><tspan x="108.38" textLength="10.32" lengthAdjust="spacingAndGlyphs">v</tspan><tspan x="119.56" textLength="4.42" lengthAdjust="spacingAndGlyphs">i</tspan><tspan x="124.68" textLength="6.68" lengthAdjust="spacingAndGlyphs">t</tspan><tspan x="132.24" textLength="10.28" lengthAdjust="spacingAndGlyphs">y</tspan></text>
</svg>
</body></html>
